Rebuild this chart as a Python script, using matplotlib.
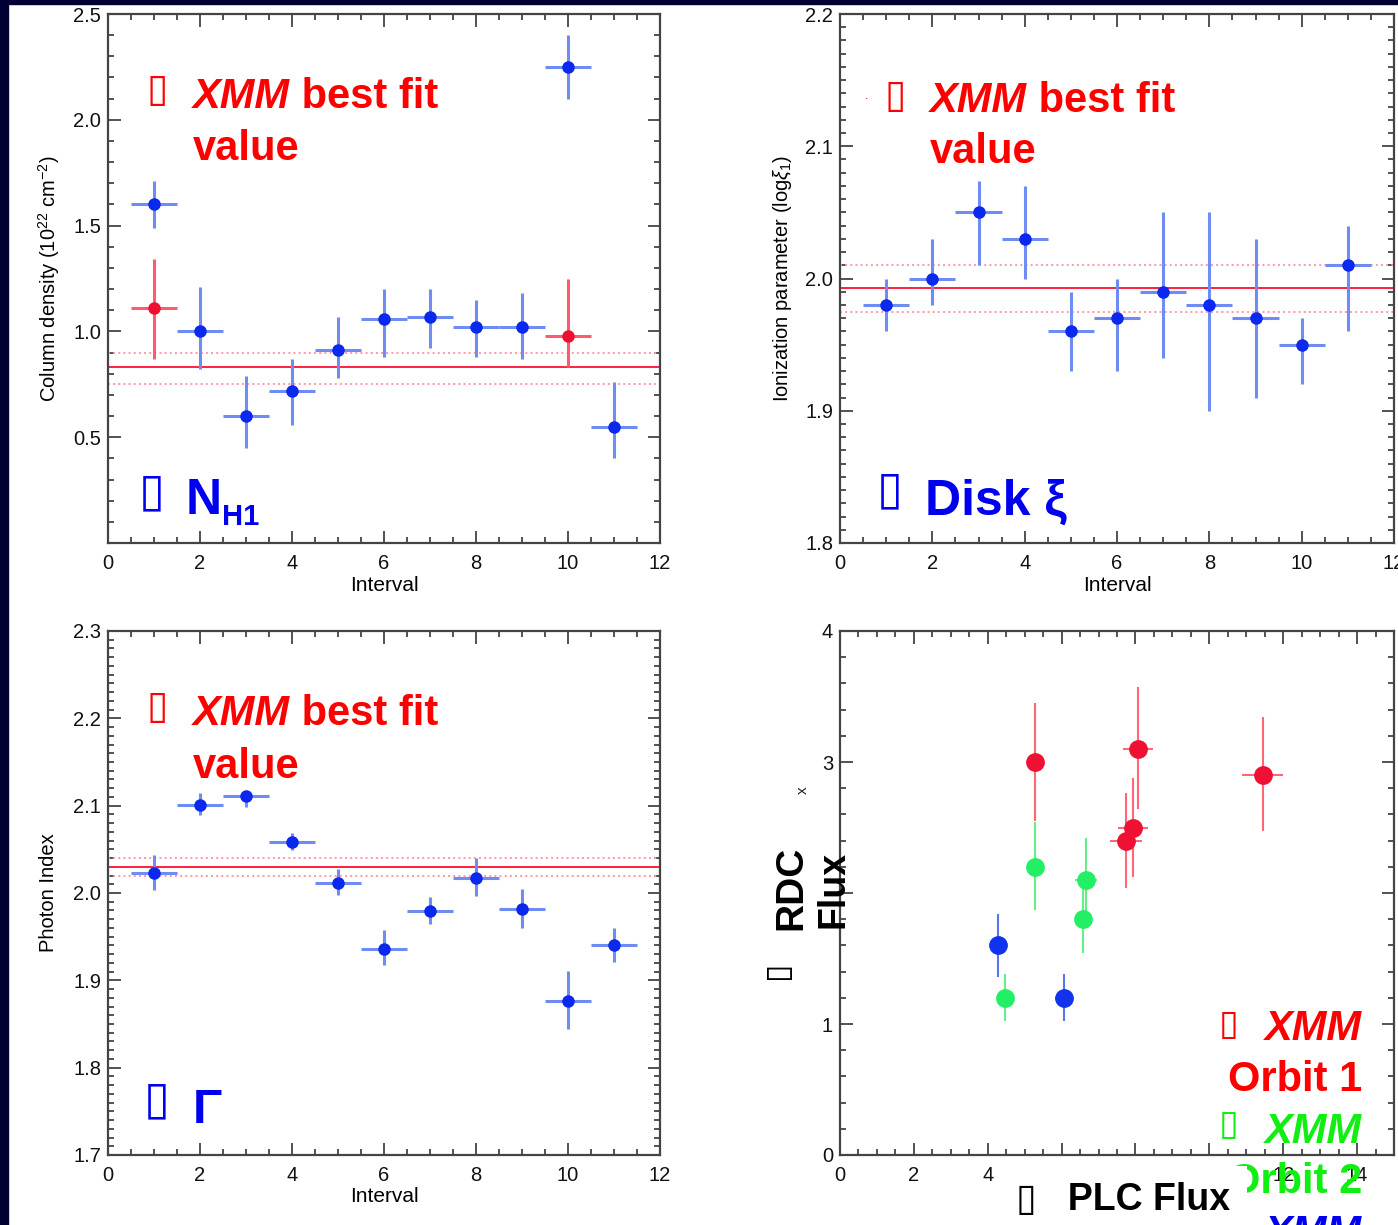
import matplotlib.pyplot as plt
from matplotlib.patches import Rectangle
from matplotlib.ticker import MultipleLocator, FormatStrFormatter

plt.rcParams['font.family'] = ['Liberation Sans', 'DejaVu Sans']
plt.rcParams['mathtext.fontset'] = 'custom'
plt.rcParams['mathtext.rm'] = 'Liberation Sans'
plt.rcParams['mathtext.it'] = 'Liberation Sans:italic'

W, H = 1398, 1225

# Suzaku interval fits (x = interval number)
interval = [1, 2, 3, 4, 5, 6, 7, 8, 9, 10, 11]

nh = [1.60, 1.00, 0.60, 0.72, 0.91, 1.06, 1.07, 1.02, 1.02, 2.25, 0.55]
nh_up = [0.11, 0.21, 0.19, 0.15, 0.16, 0.14, 0.13, 0.13, 0.16, 0.15, 0.21]
nh_dn = [0.11, 0.18, 0.15, 0.16, 0.13, 0.18, 0.15, 0.14, 0.15, 0.15, 0.15]
nh_xmm_x = [1, 10]
nh_xmm = [1.11, 0.98]
nh_xmm_up = [0.23, 0.27]
nh_xmm_dn = [0.24, 0.15]
nh_best = [0.75, 0.83, 0.90]

xi = [1.98, 2.00, 2.05, 2.03, 1.96, 1.97, 1.99, 1.98, 1.97, 1.95, 2.01]
xi_up = [0.02, 0.03, 0.024, 0.04, 0.03, 0.03, 0.06, 0.07, 0.06, 0.02, 0.03]
xi_dn = [0.02, 0.02, 0.04, 0.03, 0.03, 0.04, 0.05, 0.08, 0.06, 0.03, 0.05]
xi_best = [1.975, 1.993, 2.01]

gamma = [2.023, 2.101, 2.111, 2.058, 2.012, 1.936, 1.979, 2.017, 1.982, 1.876, 1.940]
gamma_up = [0.021, 0.014, 0.006, 0.011, 0.015, 0.022, 0.016, 0.023, 0.023, 0.035, 0.020]
gamma_dn = [0.019, 0.012, 0.013, 0.009, 0.014, 0.019, 0.015, 0.021, 0.022, 0.032, 0.019]
gamma_best = [2.020, 2.030, 2.040]

# RDC flux vs PLC flux, per XMM orbit
orb1_plc = [5.27, 8.06, 7.93, 7.75, 11.44]
orb1_plc_err = [0.05, 0.41, 0.41, 0.43, 0.55]
orb1_rdc = [3.00, 3.10, 2.50, 2.40, 2.90]
orb1_rdc_up = [0.45, 0.47, 0.38, 0.36, 0.44]
orb1_rdc_dn = [0.45, 0.46, 0.38, 0.36, 0.43]

orb2_plc = [5.27, 6.67, 6.57, 4.47]
orb2_plc_err = [0.05, 0.30, 0.20, 0.12]
orb2_rdc = [2.20, 2.10, 1.80, 1.20]
orb2_rdc_up = [0.34, 0.32, 0.32, 0.18]
orb2_rdc_dn = [0.33, 0.31, 0.26, 0.18]

orb3_plc = [4.28, 6.07]
orb3_plc_err = [0.05, 0.25]
orb3_rdc = [1.60, 1.20]
orb3_rdc_up = [0.24, 0.18]
orb3_rdc_dn = [0.24, 0.18]

flux_yticks = [0, 1, 2, 3, 4]
flux_ylabels = ['0', '1', '', '3', '4']

BLUE = '#0a28ee'
BLUE_ERR = '#6e8cf2'
RED = '#ee1030'
RED_ERR = '#ff5a6e'
TXT_RED = '#ff0000'
TXT_BLUE = '#0000ee'
TXT_GREEN = '#11ee11'

TICK_SIZE = 14.5
LABEL_SIZE = 14.5


def fx(px):
    return px / W


def fy(py):
    return 1 - py / H


def frame(ax, xstep, xminor, ystep, yminor):
    ax.xaxis.set_major_locator(MultipleLocator(xstep))
    ax.xaxis.set_minor_locator(MultipleLocator(xminor))
    ax.yaxis.set_major_locator(MultipleLocator(ystep))
    ax.yaxis.set_minor_locator(MultipleLocator(yminor))
    ax.tick_params(which='both', direction='in', top=True, right=True,
                   color='#444444', width=1.3, labelsize=TICK_SIZE, labelcolor='#111111')
    ax.tick_params(which='major', length=9)
    ax.tick_params(which='minor', length=4.5)
    ax.tick_params(axis='x', pad=8)
    ax.tick_params(axis='y', pad=5)
    for s in ax.spines.values():
        s.set_color('#444444')
        s.set_linewidth(1.6)


def interval_panel(ax, vals, up, dn, best, ylim, ystep, yminor, fmt):
    ax.errorbar(interval, vals, yerr=[dn, up], xerr=0.5, fmt='o', ms=8,
                color=BLUE, ecolor=BLUE_ERR, elinewidth=2.2, capsize=0, zorder=3)
    ax.axhline(best[1], color='#ff2040', lw=1.4, zorder=2)
    ax.axhline(best[0], color='#ff99a6', lw=1.4, ls=':', zorder=2)
    ax.axhline(best[2], color='#ff99a6', lw=1.4, ls=':', zorder=2)
    ax.set_xlim(0, 12)
    ax.set_ylim(*ylim)
    frame(ax, 2, 0.5, ystep, yminor)
    ax.yaxis.set_major_formatter(FormatStrFormatter(fmt))
    ax.set_xlabel('Interval', fontsize=LABEL_SIZE + 0.5)
    ax.xaxis.set_label_coords(0.5, -0.062)


def bullet(x, y, color, size=28, rotation=0):
    fig.text(fx(x), fy(y), '\u25af', family='DejaVu Sans', fontsize=size,
             color=color, va='top', ha='left', rotation=rotation, zorder=4)


def split_label(x, y, first, rest, color, size=30):
    # italic bold first word followed by upright bold text on the same baseline
    t = fig.text(fx(x), fy(y), first, fontsize=size, fontweight='bold',
                 fontstyle='italic', color=color, va='baseline', zorder=4)
    plt.annotate(rest, xy=(1, 0), xycoords=t, va='bottom', ha='left',
                 fontsize=size, fontweight='bold', color=color,
                 annotation_clip=False)


fig = plt.figure(figsize=(W / 100, H / 100), dpi=100)
fig.patches.append(Rectangle((0, 0), fx(8), 1, transform=fig.transFigure,
                             color='#000033', zorder=-5))
fig.patches.append(Rectangle((0, fy(4)), 1, 1, transform=fig.transFigure,
                             color='#000033', zorder=-5))

ax1 = fig.add_axes([fx(108), fy(543), fx(552), 529 / H])
ax2 = fig.add_axes([fx(840), fy(543), fx(554), 529 / H])
ax3 = fig.add_axes([fx(108), fy(1155), fx(552), 524 / H])
ax4 = fig.add_axes([fx(840), fy(1155), fx(554), 524 / H])

# column density
interval_panel(ax1, nh, nh_up, nh_dn, nh_best, (0, 2.5), 0.5, 0.1, '%.1f')
ax1.errorbar(nh_xmm_x, nh_xmm, yerr=[nh_xmm_dn, nh_xmm_up], xerr=0.5, fmt='o', ms=8,
             color=RED, ecolor=RED_ERR, elinewidth=2.2, capsize=0, zorder=3)
ax1.set_yticks([0, 0.5, 1.0, 1.5, 2.0, 2.5], labels=['', '0.5', '1.0', '1.5', '2.0', '2.5'])
ax1.set_ylabel(r'Column density (10$^{22}$ cm$^{-2}$)', fontsize=LABEL_SIZE)
ax1.yaxis.set_label_coords(-0.083, 0.5)

# ionization parameter
interval_panel(ax2, xi, xi_up, xi_dn, xi_best, (1.8, 2.2), 0.1, 0.01, '%.1f')
ax2.set_ylabel(r'Ionization parameter (log$\xi_1$)', fontsize=LABEL_SIZE)
ax2.yaxis.set_label_coords(-0.083, 0.5)

# photon index
interval_panel(ax3, gamma, gamma_up, gamma_dn, gamma_best, (1.7, 2.3), 0.1, 0.01, '%.1f')
ax3.set_ylabel('Photon Index', fontsize=LABEL_SIZE)
ax3.yaxis.set_label_coords(-0.09, 0.5)

# RDC flux vs PLC flux
for px_, pxe, ry, ru, rd, c, ce in [
        (orb1_plc, orb1_plc_err, orb1_rdc, orb1_rdc_up, orb1_rdc_dn, '#ee1133', '#ff6677'),
        (orb2_plc, orb2_plc_err, orb2_rdc, orb2_rdc_up, orb2_rdc_dn, '#22ee66', '#66ee88'),
        (orb3_plc, orb3_plc_err, orb3_rdc, orb3_rdc_up, orb3_rdc_dn, '#1133ee', '#5577ee')]:
    ax4.errorbar(px_, ry, yerr=[rd, ru], xerr=pxe, fmt='o', ms=12.5, color=c,
                 ecolor=ce, elinewidth=1.5, capsize=0, zorder=3)
ax4.set_xlim(0, 15)
ax4.set_ylim(0, 4)
frame(ax4, 2, 0.5, 1, 0.2)
ax4.set_yticks(flux_yticks, labels=flux_ylabels)

# slide annotations
for x, y in [(147, 71), (885, 77), (147, 688)]:
    bullet(x, y, TXT_RED)
split_label(193, 108, 'XMM', ' best fit', TXT_RED)
fig.text(fx(193), fy(160), 'value', fontsize=30, fontweight='bold', color=TXT_RED, va='baseline')
split_label(930, 112, 'XMM', ' best fit', TXT_RED)
fig.text(fx(930), fy(163), 'value', fontsize=30, fontweight='bold', color=TXT_RED, va='baseline')
fig.text(fx(865), fy(96), '.', fontsize=9, color=TXT_RED, va='center')
split_label(193, 725, 'XMM', ' best fit', TXT_RED)
fig.text(fx(193), fy(778), 'value', fontsize=30, fontweight='bold', color=TXT_RED, va='baseline')

bullet(139, 470, TXT_BLUE, size=34)
n = fig.text(fx(186), fy(514), 'N', fontsize=36, fontweight='bold', color=TXT_BLUE, va='baseline')
plt.annotate('H1', xy=(1, 0), xycoords=n, xytext=(0, -5), textcoords='offset points',
             va='bottom', ha='left', fontsize=21, fontweight='bold', color=TXT_BLUE)
bullet(877, 468, TXT_BLUE, size=34)
fig.text(fx(925), fy(515), 'Disk \u03be', fontsize=36, fontweight='bold', color=TXT_BLUE, va='baseline')
bullet(144, 1078, TXT_BLUE, size=34)
fig.text(fx(193), fy(1123), '\u0393', fontsize=35, fontweight='bold', color=TXT_BLUE, va='baseline')

# orbit legend
bullet(1219, 1008, TXT_RED, size=26)
fig.text(fx(1362), fy(1040), 'XMM', fontsize=30, fontweight='bold', fontstyle='italic',
         color=TXT_RED, ha='right', va='baseline')
fig.text(fx(1362), fy(1091), 'Orbit 1', fontsize=30, fontweight='bold', color=TXT_RED,
         ha='right', va='baseline')
bullet(1219, 1108, TXT_GREEN, size=26)
fig.text(fx(1362), fy(1143), 'XMM', fontsize=30, fontweight='bold', fontstyle='italic',
         color=TXT_GREEN, ha='right', va='baseline')
fig.text(fx(1362), fy(1193), 'Orbit 2', fontsize=30, fontweight='bold', color=TXT_GREEN,
         ha='right', va='baseline')
bullet(1219, 1210, TXT_BLUE, size=26)
fig.text(fx(1362), fy(1245), 'XMM', fontsize=30, fontweight='bold', fontstyle='italic',
         color=TXT_BLUE, ha='right', va='baseline')

# axis titles of the flux panel
fig.text(fx(1016), fy(1210), '\u25af   PLC Flux', fontsize=27, fontweight='bold', color='black',
         va='baseline', ha='left', zorder=6,
         bbox=dict(facecolor='white', edgecolor='none', pad=12))
bullet(760, 961, 'black', size=24, rotation=90)
fig.text(fx(801), fy(930), 'RDC', fontsize=28, fontweight='bold', color='black',
         rotation=90, va='baseline', ha='left', rotation_mode='anchor', zorder=6)
fig.text(fx(843), fy(928), 'Flux', fontsize=27, fontweight='bold', color='black',
         rotation=90, va='baseline', ha='left', rotation_mode='anchor', zorder=6)
fig.text(fx(803), fy(790), 'x', fontsize=11, color='#222222', rotation=90, va='center', ha='center')

fig.savefig('out.png', dpi=100, facecolor='white')
